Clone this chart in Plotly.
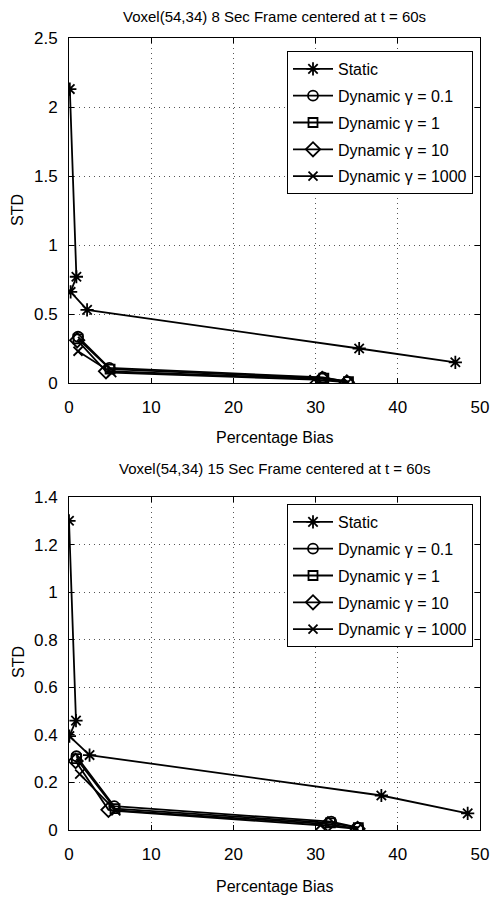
import plotly.graph_objects as go

# ---- data: STD vs percentage bias, 8 s frame (top) ----
top_static_x = [0.1, 0.9, 0.2, 2.2, 35.3, 47.0]
top_static_y = [2.13, 0.77, 0.66, 0.53, 0.25, 0.15]
top_g01_x = [1.1, 4.9, 30.9, 33.9]
top_g01_y = [0.335, 0.11, 0.04, 0.01]
top_g1_x = [1.1, 5.0, 31.0, 34.0]
top_g1_y = [0.32, 0.10, 0.035, 0.01]
top_g10_x = [1.0, 4.5, 30.8, 33.8]
top_g10_y = [0.31, 0.085, 0.03, 0.005]
top_g1000_x = [1.1, 5.2, 29.8, 33.9]
top_g1000_y = [0.23, 0.075, 0.025, 0.005]

# ---- data: 15 s frame (bottom) ----
bot_static_x = [0.0, 0.85, 0.05, 2.5, 38.0, 48.5]
bot_static_y = [1.30, 0.46, 0.395, 0.315, 0.145, 0.07]
bot_g01_x = [0.9, 5.5, 31.9, 35.2]
bot_g01_y = [0.31, 0.10, 0.035, 0.01]
bot_g1_x = [0.9, 5.6, 31.8, 35.2]
bot_g1_y = [0.30, 0.09, 0.03, 0.01]
bot_g10_x = [0.8, 4.8, 31.5, 35.1]
bot_g10_y = [0.29, 0.085, 0.025, 0.005]
bot_g1000_x = [1.3, 5.7, 30.6, 35.0]
bot_g1000_y = [0.235, 0.08, 0.02, 0.005]

names = ["Static", "Dynamic \u03b3 = 0.1", "Dynamic \u03b3 = 1",
         "Dynamic \u03b3 = 10", "Dynamic \u03b3 = 1000"]
symbols = ["asterisk-open", "circle-open", "square-open", "diamond-open", "x-thin-open"]
sizes = [11, 10, 9, 11, 9]

FONT = "Liberation Sans, Arial, sans-serif"
W, H = 490, 904

def px_x(p):
    return p / W

def px_y(p):
    return 1 - p / H

fig = go.Figure()

series = {
    "top": [(top_static_x, top_static_y), (top_g01_x, top_g01_y), (top_g1_x, top_g1_y),
            (top_g10_x, top_g10_y), (top_g1000_x, top_g1000_y)],
    "bot": [(bot_static_x, bot_static_y), (bot_g01_x, bot_g01_y), (bot_g1_x, bot_g1_y),
            (bot_g10_x, bot_g10_y), (bot_g1000_x, bot_g1000_y)],
}

for panel, (xa, ya, leg) in {"top": ("x", "y", "legend"), "bot": ("x2", "y2", "legend2")}.items():
    for i, (xs, ys) in enumerate(series[panel]):
        fig.add_trace(go.Scatter(
            x=xs, y=ys, mode="lines+markers", name=names[i],
            xaxis=xa, yaxis=ya, legend=leg, legendgroup=f"{panel}{i}",
            line=dict(color="black", width=1.8),
            marker=dict(symbol=symbols[i], size=sizes[i], color="black",
                        line=dict(color="black", width=1.8)),
        ))

axis_common = dict(
    showline=True, linecolor="black", linewidth=1, mirror="allticks",
    ticks="inside", ticklen=5, tickcolor="black",
    showgrid=True, gridcolor="#555", gridwidth=1, griddash="1px,4px",
    zeroline=False, tickfont=dict(family=FONT, size=17, color="black"),
    fixedrange=True, automargin=False,
)

x_dom = [px_x(69), px_x(480)]
legend_common = dict(
    xanchor="right", yanchor="top",
    bgcolor="white", bordercolor="black", borderwidth=1,
    font=dict(family=FONT, size=16, color="black"),
    tracegroupgap=3, itemwidth=40,
)
fig.update_layout(
    width=W, height=H, margin=dict(l=0, r=0, t=0, b=0, autoexpand=False),
    paper_bgcolor="white", plot_bgcolor="white",
    font=dict(family=FONT, color="black"),
    xaxis=dict(domain=x_dom, range=[0, 50], dtick=10, anchor="y",
               ticklabelstandoff=9, **axis_common),
    yaxis=dict(domain=[px_y(383), px_y(38)], range=[0, 2.5], dtick=0.5, anchor="x",
               ticklabelstandoff=7, **axis_common),
    xaxis2=dict(domain=x_dom, range=[0, 50], dtick=10, anchor="y2",
                ticklabelstandoff=9, **axis_common),
    yaxis2=dict(domain=[px_y(830), px_y(497)], range=[0, 1.4], dtick=0.2, anchor="x2",
                ticklabelstandoff=7, **axis_common),
    legend=dict(x=px_x(473), y=px_y(51), **legend_common),
    legend2=dict(x=px_x(473), y=px_y(504), **legend_common),
    showlegend=True,
)

annots = [
    ("Voxel(54,34) 8 Sec Frame centered at t = 60s", 274, 16, 0, 15),
    ("Percentage Bias", 274, 437, 0, 16),
    ("Voxel(54,34) 15 Sec Frame centered at t = 60s", 274, 468, 0, 15),
    ("Percentage Bias", 274, 886, 0, 16),
    ("STD", 18, 210, -90, 16),
    ("STD", 18, 662, -90, 16),
]
for text, x, y, ang, fs in annots:
    fig.add_annotation(text=text, x=px_x(x), y=px_y(y), xref="paper", yref="paper",
                       showarrow=False, textangle=ang, xanchor="center", yanchor="middle",
                       font=dict(family=FONT, size=fs, color="black"))

fig.write_html("out.html")
